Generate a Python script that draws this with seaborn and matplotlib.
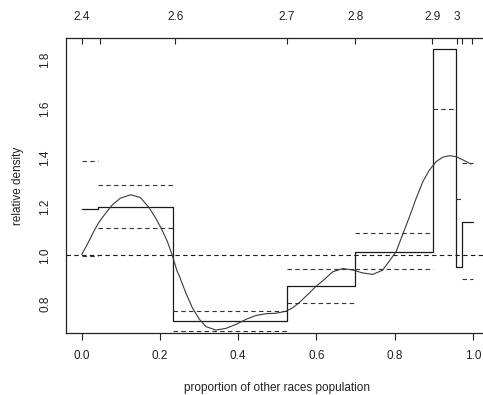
import numpy as np
import pandas as pd
import matplotlib
matplotlib.use("Agg")
import matplotlib.pyplot as plt
import seaborn as sns

# ---- data ----
bin_edges = [0.0, 0.043, 0.234, 0.524, 0.699, 0.897, 0.957, 0.972, 0.999]
rel_density = [1.19, 1.20, 0.732, 0.876, 1.015, 1.844, 0.953, 1.137]
ci_upper = [1.385, 1.286, 0.771, 0.943, 1.090, np.nan, 1.229, 1.377]
ci_lower = [0.997, 1.110, 0.689, 0.806, 0.943, 1.598, np.nan, 0.904]

curve_x = [0.0, 0.014, 0.031, 0.044, 0.061, 0.078, 0.099, 0.125, 0.150, 0.172,
           0.189, 0.203, 0.219, 0.231, 0.244, 0.249, 0.266, 0.283, 0.301, 0.318,
           0.343, 0.369, 0.394, 0.420, 0.446, 0.471, 0.497, 0.522, 0.539, 0.556,
           0.578, 0.599, 0.620, 0.641, 0.667, 0.693, 0.718, 0.744, 0.769, 0.786,
           0.804, 0.820, 0.838, 0.855, 0.872, 0.889, 0.906, 0.923, 0.940, 0.957,
           0.974, 0.995]
curve_y = [1.003, 1.044, 1.098, 1.135, 1.172, 1.206, 1.234, 1.248, 1.237, 1.196,
           1.153, 1.112, 1.057, 1.003, 0.935, 0.918, 0.847, 0.785, 0.738, 0.708,
           0.694, 0.701, 0.717, 0.738, 0.754, 0.761, 0.763, 0.771, 0.785, 0.806,
           0.840, 0.873, 0.901, 0.932, 0.946, 0.940, 0.928, 0.922, 0.939, 0.976,
           1.016, 1.084, 1.159, 1.234, 1.302, 1.350, 1.384, 1.402, 1.408, 1.404,
           1.391, 1.374]

top_tick_pos = [0.0005, 0.0465, 0.239, 0.525, 0.6995, 0.8957, 0.9596, 0.9724, 0.9969]
top_tick_labels = ["2.4", "", "2.6", "2.7", "2.8", "2.9", "3", "", ""]

bottom_ticks = [0.0, 0.2, 0.4, 0.6, 0.8, 1.0]
y_ticks = [0.8, 1.0, 1.2, 1.4, 1.6, 1.8]

x_label = "proportion of other races population"
y_label = "relative density"

# ---- plotting ----
sns.set_theme(style="white")
plt.rcParams["font.family"] = ["Liberation Sans", "DejaVu Sans"]
FS = 8.5
plt.rcParams["font.size"] = FS

W, H = 483, 395
fig = plt.figure(figsize=(W / 100, H / 100), dpi=100)
left_px, right_px, top_px, bottom_px = 66, 488.6, 38, 333
ax = fig.add_axes([left_px / W, 1 - bottom_px / H,
                   (right_px - left_px) / W, (bottom_px - top_px) / H])

xmin, xmax = -0.04, 1.04
ymin, ymax = 0.682, 1.89

step_df = pd.DataFrame({"x": bin_edges, "y": rel_density + [rel_density[-1]]})
sns.lineplot(data=step_df, x="x", y="y", drawstyle="steps-post",
             color="#1a1a1a", linewidth=0.9, ax=ax, estimator=None, sort=False)

curve_df = pd.DataFrame({"x": curve_x, "y": curve_y})
sns.lineplot(data=curve_df, x="x", y="y", color="#3a3a3a", linewidth=0.8,
             ax=ax, estimator=None, sort=False)

dash = (0, (4, 3))
for lo, hi, u, l in zip(bin_edges[:-1], bin_edges[1:], ci_upper, ci_lower):
    if not np.isnan(u):
        ax.hlines(u, lo, hi, colors="#333333", linestyles=dash, linewidth=0.8)
    if not np.isnan(l):
        ax.hlines(l, lo, hi, colors="#333333", linestyles=dash, linewidth=0.8)

ax.axhline(1.0, color="#1a1a1a", linestyle=dash, linewidth=0.8)

ax.set_xlim(xmin, xmax)
ax.set_ylim(ymin, ymax)
ax.set_xticks(bottom_ticks)
ax.set_xticklabels([f"{v:.1f}" for v in bottom_ticks])
ax.set_yticks(y_ticks)
ax.set_yticklabels([f"{v:.1f}" for v in y_ticks], rotation=90, va="center")
ax.tick_params(axis="both", direction="out", length=5, width=0.8,
               colors="#222222", labelcolor="#222222", labelsize=FS)
ax.tick_params(axis="x", pad=7.5)
ax.tick_params(axis="y", pad=5.5)

for s in ["left", "bottom", "top", "right"]:
    ax.spines[s].set_color("#222222")
    ax.spines[s].set_linewidth(0.9)

ax.set_xlabel(x_label, fontsize=FS, color="#222222")
ax.set_ylabel(y_label, fontsize=FS, color="#222222")
ax.xaxis.set_label_coords(0.5, -0.165)
ax.yaxis.set_label_coords(-0.10, 0.5)

top = ax.twiny()
top.set_xlim(xmin, xmax)
top.set_xticks(top_tick_pos)
top.set_xticklabels(top_tick_labels)
top.tick_params(axis="x", direction="in", length=4.5, width=0.8,
                colors="#222222", labelcolor="#222222", labelsize=FS, pad=11)
for s in ["left", "bottom", "top", "right"]:
    top.spines[s].set_visible(False)
top.grid(False)
ax.grid(False)

fig.savefig("out.png", dpi=100)
